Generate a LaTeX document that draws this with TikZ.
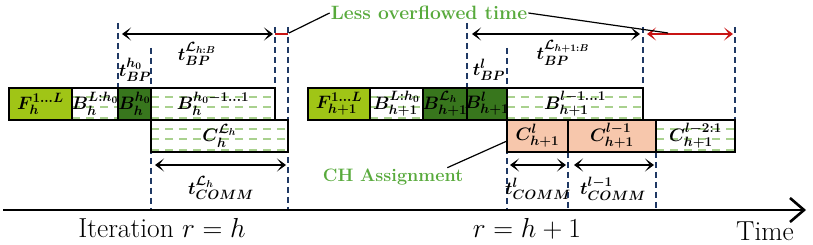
\RequirePackage{fix-cm}
\documentclass[tikz,border=0pt]{standalone}
\usepackage{amsmath}
\usepackage{amssymb}
\usepackage{tikz}
\usetikzlibrary{arrows.meta,positioning,calc,backgrounds}
\DeclareMathSizes{18}{18}{13.5}{10}
\definecolor{FwdGreen}{RGB}{160,197,22}
\definecolor{BwdGreen}{RGB}{56,118,29}
\definecolor{CommSalmon}{RGB}{247,199,172}
\definecolor{HatchGreen}{RGB}{169,209,142}
\definecolor{GuideNavy}{RGB}{31,56,100}
\definecolor{NoteGreen}{RGB}{88,170,60}
\definecolor{OverRed}{RGB}{200,20,20}
% box label that may run over the box edges
\newcommand{\blab}[1]{\makebox[0pt]{$#1$}}

\begin{document}
\begin{tikzpicture}[x=1pt, y=-1pt,
        blk/.style={draw, line width=1.3pt, minimum height=32pt, inner sep=0pt, outer sep=0pt,
                    anchor=north west, font=\fontsize{18}{19}\selectfont\boldmath},
        hatch/.style={fill=white, path picture={
            \foreach \fr in {0.28,0.6,0.93}
                \draw[HatchGreen, line width=1.6pt, dash pattern=on 8pt off 6pt]
                    ($(path picture bounding box.north west)!\fr!(path picture bounding box.south west)$) --
                    ($(path picture bounding box.north east)!\fr!(path picture bounding box.south east)$);}},
        lbl/.style={font=\fontsize{18}{19}\selectfont\boldmath, inner sep=0pt},
        note/.style={text=NoteGreen, font=\fontsize{19.3}{20}\selectfont\bfseries, inner sep=1pt},
        axlbl/.style={font=\fontsize{27.5}{28}\selectfont, anchor=base, inner sep=0pt},
        guide/.style={GuideNavy, line width=1.3pt, dash pattern=on 6pt off 4pt},
        dimarr/.style={{Stealth[length=9pt,width=13pt,inset=5pt]}-{Stealth[length=9pt,width=13pt,inset=5pt]},
                    line width=1.8pt},
        over/.style={OverRed, line width=2.4pt},
        lead/.style={line width=1.2pt},
        axis/.style={-{Straight Barb[length=14pt,width=24pt]}, line width=2.6pt}
]
    \useasboundingbox (0,0) rectangle (813,245);

    % iteration h
    \node[blk, fill=FwdGreen, minimum width=63pt] (fh) at (9,88) {\blab{F_h^{1\ldots L}}};
    \node[blk, hatch, minimum width=46pt, right=0pt of fh] (bh1) {\blab{B_h^{L:h_0}}};
    \node[blk, fill=BwdGreen, minimum width=33pt, right=0pt of bh1] (bh2) {\blab{B_h^{h_0}}};
    \node[blk, hatch, minimum width=124pt, right=0pt of bh2] (bh3) {\blab{B_h^{h_0-1\ldots 1}}};
    \node[blk, hatch, minimum width=137pt] (ch) at (bh3.south west) {\blab{C_h^{\mathcal{L}_h}}};

    % iteration h+1
    \node[blk, fill=FwdGreen, minimum width=62pt] (fn) at (308,88) {\blab{F_{h+1}^{1\ldots L}}};
    \node[blk, hatch, minimum width=53pt, right=0pt of fn] (bn1) {\blab{B_{h+1}^{L:h_0}}};
    \node[blk, fill=BwdGreen, minimum width=44pt, right=0pt of bn1] (bn2) {\blab{B_{h+1}^{\mathcal{L}_h}}};
    \node[blk, fill=BwdGreen, minimum width=40pt, right=0pt of bn2] (bn3) {\blab{B_{h+1}^{l}}};
    \node[blk, hatch, minimum width=136pt, right=0pt of bn3] (bn4) {\blab{B_{h+1}^{l-1\ldots 1}}};
    \node[blk, fill=CommSalmon, minimum width=61pt] (cn1) at (bn4.south west) {\blab{C_{h+1}^{l}}};
    \node[blk, fill=CommSalmon, minimum width=88pt, right=0pt of cn1] (cn2) {\blab{C_{h+1}^{l-1}}};
    \node[blk, hatch, minimum width=79pt, right=0pt of cn2] (cn3) {\blab{C_{h+1}^{l-2:1}}};

    % time axis
    \coordinate (ax0) at (3,210);
    \coordinate (ax1) at (806,210);
    \draw[axis] (ax0) -- (ax1);
    \node[axlbl] (it1) at (162,238) {Iteration $r=h$};
    \node[axlbl] (it2) at (527,238) {$r=h+1$};
    \node[axlbl] (tm) at (765,241) {Time};

    % guide lines
    \coordinate (g1) at (118,23);
    \coordinate (g2) at (151,48);
    \coordinate (g3) at (275,27);
    \coordinate (g4) at (288,27);
    \coordinate (g5) at (467,23);
    \coordinate (g6) at (507,48);
    \coordinate (g7) at (643,27);
    \coordinate (g8) at (735,27);
    \begin{scope}[on background layer]
        \draw[guide] (g1) -- (bh2.north west);
        \draw[guide] (g2) -- (g2 |- ax0);
        \draw[guide] (g3) -- (bh3.north east);
        \draw[guide] (g4) -- (g4 |- ax0);
        \draw[guide] (g5) -- (bn3.north west);
        \draw[guide] (g6) -- (g6 |- ax0);
        \draw[guide] (g7) -- (bn4.north east);
        \draw[guide] (g8) -- (cn3.north east);
        \draw[guide] (cn1.south east) -- (cn1.south east |- ax0);
        \draw[guide] (cn2.south east) -- (cn2.south east |- ax0);
    \end{scope}

    % time spans
    \coordinate (d1) at (122,34);
    \coordinate (d2) at (273,34);
    \coordinate (d3) at (155,165);
    \coordinate (d4) at (286,165);
    \coordinate (d5) at (472,34);
    \coordinate (d6) at (640,34);
    \coordinate (d7) at (647,34);
    \coordinate (d8) at (733,34);
    \coordinate (d9) at (510,165);
    \coordinate (d10) at (566,165);
    \coordinate (d11) at (574,165);
    \coordinate (d12) at (654,165);
    \draw[dimarr] (d1) -- (d2);
    \draw[over] (g3 |- d2) -- (g4 |- d2);
    \draw[dimarr] (d3) -- (d4);
    \draw[dimarr] (d5) -- (d6);
    \draw[dimarr, OverRed] (d7) -- (d8);
    \draw[dimarr] (d9) -- (d10);
    \draw[dimarr] (d11) -- (d12);

    \node[lbl] (tbh) at (197,54) {$t_{BP}^{\mathcal{L}_{h:B}}$};
    \node[lbl] (tb0) at (135,70) {$t_{BP}^{h_0}$};
    \node[lbl] (tch) at (221,188) {$t_{COMM}^{\mathcal{L}_h}$};
    \node[lbl] (tbn) at (563,53) {$t_{BP}^{\mathcal{L}_{h+1:B}}$};
    \node[lbl] (tbl) at (489,70) {$t_{BP}^{l}$};
    \node[lbl] (tc1) at (538,189) {$t_{COMM}^{l}$};
    \node[lbl] (tc2) at (613,189) {$t_{COMM}^{l-1}$};

    % notes
    \coordinate (o1) at (289,33);
    \coordinate (o2) at (668,33);
    \node[note] (less) at (429,13) {Less overflowed time};
    \node[note, font=\fontsize{18}{19}\selectfont\bfseries] (chas) at (393,177) {CH Assignment};
    \draw[lead] (less.west) -- (o1);
    \draw[lead] (less.east) -- (o2);
    \draw[lead] ([xshift=-17pt]chas.north east) -- ([yshift=-5pt]cn1.west);
\end{tikzpicture}
\end{document}
